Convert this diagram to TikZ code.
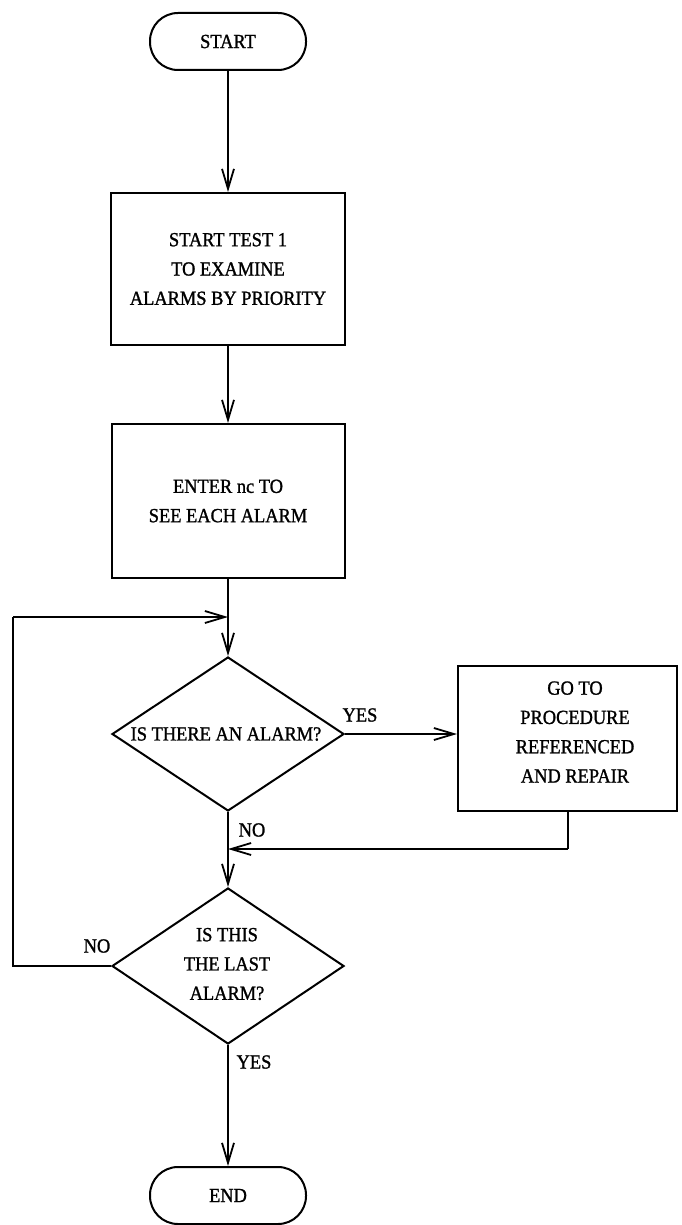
\documentclass[tikz,border=0pt]{standalone}
\usepackage{fontspec}
\setmainfont{Liberation Serif}[FakeStretch=0.92,FakeBold=1.2]
\usetikzlibrary{arrows.meta,shapes.geometric}
\begin{document}
\begin{tikzpicture}[x=1pt,y=1pt,
  every node/.style={font=\fontsize{20}{29.3}\selectfont},
  line/.style={line width=2pt},
  arr/.style={line width=2pt,-{Straight Barb[length=20pt,width=12pt,line width=1.8pt]}},
  term/.style={draw,line width=2pt,rectangle,rounded corners=28pt,minimum width=156pt,minimum height=57pt,inner sep=0pt},
  proc/.style={draw,line width=2pt,rectangle,align=center,inner sep=0pt},
  dec/.style={draw,line width=2pt,diamond,inner sep=0pt},
  txt/.style={align=center,inner sep=0pt},
  lbl/.style={inner sep=0pt}]
\useasboundingbox (0,0) rectangle (681,-1225);
% nodes
\node[term] (start) at (228,-41.5) {START};
\node[proc,minimum width=234pt,minimum height=152pt] (box1) at (228,-269) {START TEST 1\\TO EXAMINE\\ALARMS BY PRIORITY};
\node[proc,minimum width=233pt,minimum height=154pt] (box2) at (228,-501) {ENTER nc TO\\SEE EACH ALARM};
\node[dec,minimum width=232pt,minimum height=154pt] (d1) at (228,-734) {};
\node[txt] (d1t) at (226,-734) {IS THERE AN ALARM?};
\node[proc,minimum width=219pt,minimum height=145pt] (box3) at (567.5,-738.5) {};
\node[txt] (box3t) at (575,-732) {GO TO\\PROCEDURE\\REFERENCED\\AND REPAIR};
\node[dec,minimum width=232pt,minimum height=156pt] (d2) at (228,-966) {};
\node[txt] (d2t) at (227,-964) {IS THIS\\THE LAST\\ALARM?};
\node[term] (end) at (228,-1195.5) {END};
% labels
\node[lbl] (yes1) at (360,-715) {YES};
\node[lbl] (no1) at (252,-830) {NO};
\node[lbl] (no2) at (97,-946) {NO};
\node[lbl] (yes2) at (254,-1062) {YES};
% junction coordinates
\coordinate (j1) at (228,-617);
\coordinate (j2) at (228,-849);
\coordinate (c1) at (13,-966);
\coordinate (c2) at (13,-617);
\coordinate (c3) at (box3.south |- j2);
% connectors
\draw[arr] (start) -- (box1);
\draw[arr] (box1) -- (box2);
\draw[arr] (box2) -- (d1.north);
\draw[arr] (d1.east) -- (d1.east -| box3.west);
\draw[arr] (d1.south) -- (d2.north);
\draw[line] (box3.south) -- (c3);
\draw[arr] (c3) -- (j2);
\draw[line] (d2.west) -- (c1) -- (c2);
\draw[arr] (c2) -- (j1);
\draw[arr] (d2.south) -- (end.north);
\end{tikzpicture}
\end{document}
